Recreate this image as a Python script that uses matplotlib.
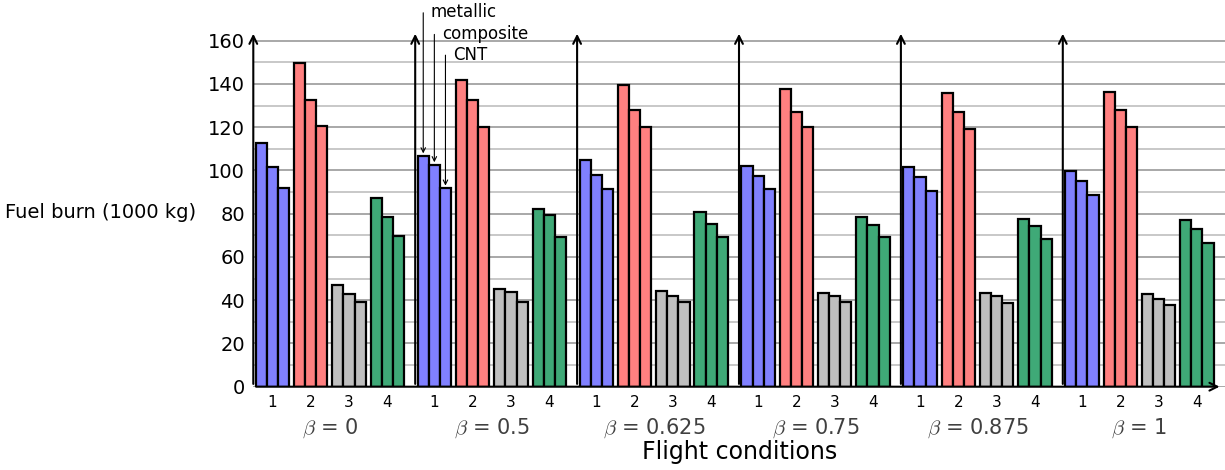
import numpy as np
import matplotlib.pyplot as plt

# fuel burn (1000 kg), per beta group, per flight condition: [metallic, composite, CNT]
betas = ['0', '0.5', '0.625', '0.75', '0.875', '1']
conditions = ['1', '2', '3', '4']
materials = ['metallic', 'composite', 'CNT']

fuel = [
    [[112.6, 101.6, 92.0], [149.5, 132.6, 120.7], [47.2, 43.0, 39.2], [87.1, 78.5, 69.5]],
    [[106.6, 102.5, 91.7], [141.7, 132.4, 120.2], [45.0, 43.8, 39.2], [82.2, 79.5, 69.4]],
    [[104.8, 97.9, 91.6], [139.7, 128.0, 120.1], [44.4, 41.9, 39.2], [80.8, 75.4, 69.4]],
    [[102.1, 97.3, 91.4], [137.7, 127.2, 120.0], [43.2, 41.9, 39.3], [78.5, 74.6, 69.4]],
    [[101.5, 97.1, 90.6], [135.8, 126.9, 119.3], [43.2, 41.9, 38.8], [77.7, 74.5, 68.4]],
    [[99.9, 95.1, 88.5], [136.1, 127.8, 120.0], [42.9, 40.7, 37.6], [77.1, 72.8, 66.6]],
]
colors = ['#8080ff', '#ff8080', '#bfbfbf', '#3fa977']

G = 4.227      # group spacing (in condition units)
w = 0.29       # bar width
fig = plt.figure(figsize=(12.25, 4.7), dpi=100)
ax = fig.add_axes([253.3/1225, 83.3/470, 1 - 253.3/1225, 356.8/470])
ax.set_xlim(0, 25.37)
ax.set_ylim(0, 165)

for g in range(len(betas)):
    for c in range(len(conditions)):
        xc = g*G + 0.5 + c
        for k in range(3):
            ax.bar(xc + (k-1)*w, fuel[g][c][k], width=w, color=colors[c],
                   edgecolor='black', linewidth=1.6, zorder=3)

# grid
ax.set_yticks(range(0, 161, 20))
ax.set_yticks(range(10, 161, 20), minor=True)
ax.grid(axis='y', which='major', color='0.6', lw=1.2, zorder=0)
ax.grid(axis='y', which='minor', color='0.75', lw=1.2, zorder=0)
ax.tick_params(axis='y', which='both', length=0, labelsize=14, pad=6)
for s in ax.spines.values():
    s.set_visible(False)

# x ticks
xt = [g*G + 0.5 + c for g in range(len(betas)) for c in range(len(conditions))]
ax.set_xticks(xt)
ax.set_xticklabels(conditions*len(betas), fontsize=11)
ax.tick_params(axis='x', length=0, pad=6)
for g, b in enumerate(betas):
    ax.text(g*G + 2.0, -0.115, r'$\beta$ = ' + b, transform=ax.get_xaxis_transform(),
            ha='center', va='center', fontsize=15, color='0.25',
            math_fontfamily='cm')
fig.text(0.5 + 253.3/2450, 1 - 452/470, 'Flight conditions', fontsize=17,
         ha='center', va='center')

# axis arrows
ap = dict(arrowstyle='->', lw=1.5, color='black', mutation_scale=14)
for g in range(len(betas)):
    ax.annotate('', xy=(g*G, 164.5), xytext=(g*G, 0), arrowprops=ap,
                annotation_clip=False, zorder=5)
ax.annotate('', xy=(25.3, 0), xytext=(0, 0), arrowprops=ap,
            annotation_clip=False, zorder=5)

# material labels on beta=0.5, condition 1
tops = [174.2, 164.2, 154.6]
for k in range(3):
    xc = G + 0.5 + (k-1)*w
    ax.annotate('', xy=(xc, fuel[1][0][k]), xytext=(xc, tops[k]),
                arrowprops=dict(arrowstyle='->', lw=0.8, color='black',
                                mutation_scale=8),
                annotation_clip=False, zorder=6)
    ax.text(xc + 0.2, tops[k] - 1, materials[k], fontsize=12, ha='left',
            va='center', clip_on=False)

fig.text(5/1225, 1 - 213/470, 'Fuel burn (1000 kg)', fontsize=14,
         ha='left', va='center')

fig.savefig('out.png', dpi=100)
